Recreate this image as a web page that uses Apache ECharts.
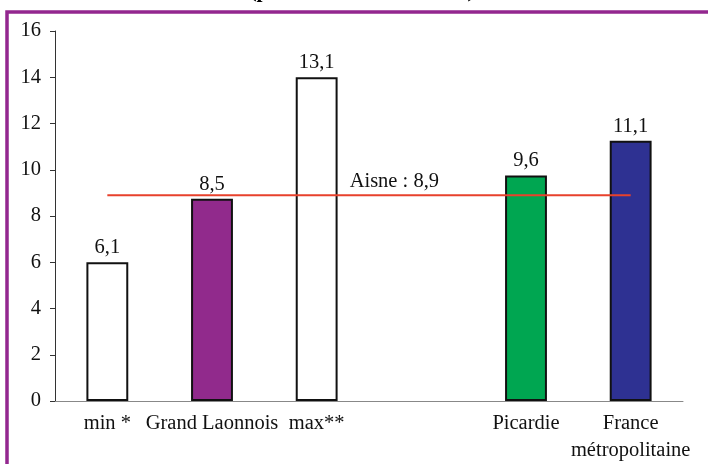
<!DOCTYPE html>
<html>
<head>
<meta charset="utf-8">
<script src="https://cdn.jsdelivr.net/npm/echarts@6/dist/echarts.min.js"></script>
<style>
  html, body { margin: 0; padding: 0; background: #fff; }
  #chart { width: 708px; height: 464px; }
</style>
</head>
<body>
<div id="chart"></div>
<script>
const categories = ['min *', 'Grand Laonnois', 'max**', '', 'Picardie', 'France\nmétropolitaine'];
const barValues = [6.0, 8.75, 14.0, null, 9.75, 11.25];
const barLabels = ['6,1', '8,5', '13,1', '', '9,6', '11,1'];
const barColors = ['#ffffff', '#912a8c', '#ffffff', null, '#00a651', '#2e3192'];
const aisneValue = 8.9;
const aisneLabel = 'Aisne : 8,9';
const titleText = '(pour 100 000 habitants)';

const font = 'Liberation Serif';
const fs = 20.5;
const chart = echarts.init(document.getElementById('chart'));

chart.setOption({
  animation: false,
  textStyle: { fontFamily: font },
  graphic: [
    {
      type: 'rect',
      shape: { x: 7, y: 12, width: 760, height: 520 },
      style: { fill: 'none', stroke: '#93278f', lineWidth: 3.5 }
    },
    {
      type: 'text',
      x: 362, y: 2,
      style: {
        text: titleText,
        font: 'bold 21.5px "Liberation Serif"',
        fill: '#000',
        align: 'center',
        verticalAlign: 'bottom'
      }
    }
  ],
  grid: { left: 55, right: 25, top: 31, bottom: 63, outerBoundsMode: 'none' },
  xAxis: {
    type: 'category',
    data: categories,
    axisLine: { lineStyle: { color: '#888', width: 1 } },
    axisTick: { show: false },
    axisLabel: {
      color: '#111',
      fontSize: fs,
      fontFamily: font,
      interval: 0,
      margin: 9,
      lineHeight: 27
    }
  },
  yAxis: {
    type: 'value',
    min: 0,
    max: 16,
    interval: 2,
    axisLine: { show: true, lineStyle: { color: '#333', width: 1 } },
    axisTick: { show: true, length: 5, lineStyle: { color: '#333' } },
    splitLine: { show: false },
    axisLabel: { color: '#111', fontSize: fs, fontFamily: font, margin: 14 }
  },
  series: [
    {
      type: 'bar',
      barWidth: '40%',
      data: barValues.map((v, i) => ({
        value: v,
        itemStyle: { color: barColors[i] || 'transparent' }
      })),
      itemStyle: { borderColor: '#111', borderWidth: 2 },
      label: {
        show: true,
        position: 'top',
        distance: 4,
        color: '#111',
        fontSize: fs,
        fontFamily: font,
        formatter: p => barLabels[p.dataIndex]
      },
      z: 2
    },
    {
      type: 'line',
      data: categories.map((c, i) => ({
        value: aisneValue,
        label: i === 3 ? {
          show: true,
          position: 'top',
          distance: 3,
          offset: [-27, 0],
          formatter: aisneLabel,
          color: '#111',
          fontSize: fs,
          fontFamily: font
        } : { show: false }
      })),
      symbol: 'circle',
      symbolSize: 0,
      showSymbol: true,
      itemStyle: { color: '#e8412c' },
      lineStyle: { color: '#e8412c', width: 2 },
      z: 3
    }
  ]
});
</script>
</body>
</html>
